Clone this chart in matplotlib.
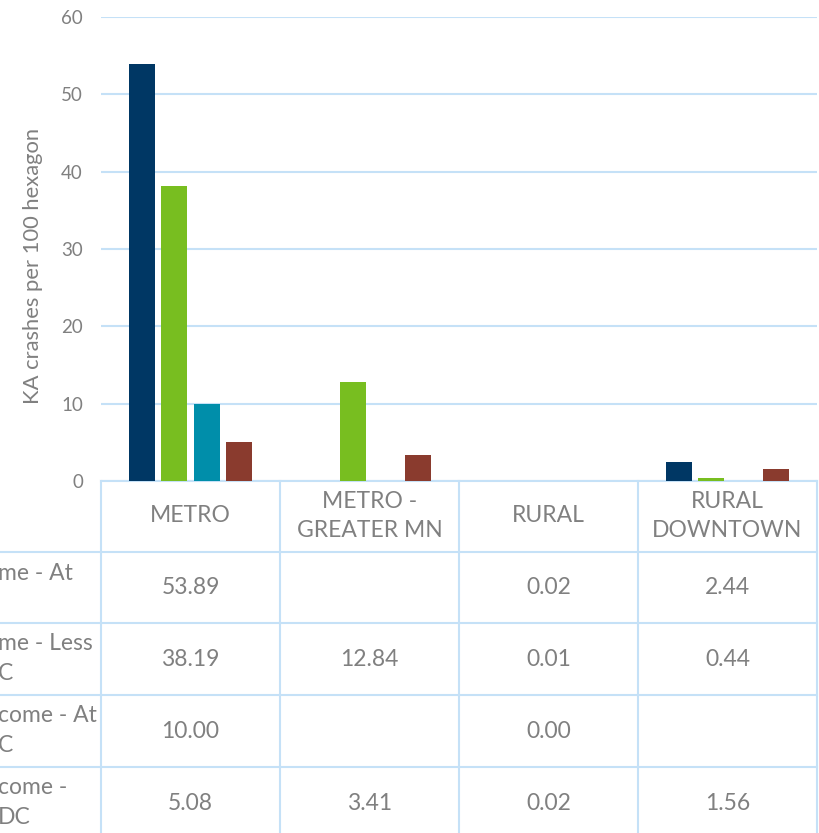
import numpy as np
import matplotlib.pyplot as plt

plt.rcParams['font.family'] = ['Lato', 'DejaVu Sans']

categories = ["METRO", "METRO -\nGREATER MN", "RURAL", "RURAL\nDOWNTOWN"]
series_1 = [53.89, np.nan, 0.02, 2.44]
series_2 = [38.19, 12.84, 0.01, 0.44]
series_3 = [10.00, np.nan, 0.00, np.nan]
series_4 = [5.08, 3.41, 0.02, 1.56]
# row labels are cut off at the left edge of the picture, only the tails show
row_labels = ["me - At", "me - Less\nC", "come - At\nC", "come -\nDC"]
yticks = [0, 10, 20, 30, 40, 50, 60]

colors = ["#003764", "#78BE20", "#008EAA", "#8A3B2E"]
grid_col = "#C5E1F7"
text_col = "#808080"

W, H = 820, 833
fig = plt.figure(figsize=(W / 100, H / 100), dpi=100)
ax = fig.add_axes([101 / W, 1 - 481 / H, 716 / W, 464 / H])

x = np.arange(len(categories))
all_series = [series_1, series_2, series_3, series_4]
for i, vals in enumerate(all_series):
    ax.bar(x + (i - 1.5) * 0.182, vals, width=0.145, color=colors[i], zorder=3)

ax.set_xlim(-0.5, 3.5)
ax.set_ylim(0, 60)
ax.set_yticks(yticks)
ax.set_xticks([])
ax.yaxis.grid(True, color=grid_col, linewidth=1.5, zorder=0)
for s in ["left", "right", "top"]:
    ax.spines[s].set_visible(False)
ax.spines["bottom"].set_color(grid_col)
ax.spines["bottom"].set_linewidth(1.5)
ax.tick_params(axis="y", length=0, pad=13, labelsize=13.5, labelcolor=text_col)

fig.text(33 / W, 1 - 266 / H, "KA crashes per 100 hexagon", rotation=90,
         ha="center", va="center", fontsize=15.8, color=text_col)

# data table below the plot
def fx(px):
    return px / W

def fy(py):
    return 1 - py / H

col_edges = [101, 280, 459, 638, 817]
row_edges = [481, 552, 623, 695, 767, 840]
for cx in col_edges:
    fig.add_artist(plt.Line2D([fx(cx), fx(cx)], [fy(481), fy(840)],
                              color=grid_col, linewidth=1.5))
for ry in row_edges[1:-1]:
    fig.add_artist(plt.Line2D([fx(-5), fx(817)], [fy(ry), fy(ry)],
                              color=grid_col, linewidth=1.5))

for j, cat in enumerate(categories):
    cx = (col_edges[j] + col_edges[j + 1]) / 2
    fig.text(fx(cx), fy(516), cat, ha="center", va="center",
             fontsize=16.5, color=text_col, linespacing=1.45)
    for i, vals in enumerate(all_series):
        cy = (row_edges[i + 1] + row_edges[i + 2]) / 2
        v = vals[j]
        label = "" if np.isnan(v) else f"{v:.2f}"
        fig.text(fx(cx), fy(cy), label, ha="center", va="center",
                 fontsize=16.5, color=text_col)

for i, lab in enumerate(row_labels):
    top = row_edges[i + 1]
    for k, line in enumerate(lab.split("\n")):
        fig.text(fx(-2), fy(top + 21 + 29.5 * k), line, ha="left", va="center",
                 fontsize=16.5, color=text_col)

plt.savefig("out.png", dpi=100)
